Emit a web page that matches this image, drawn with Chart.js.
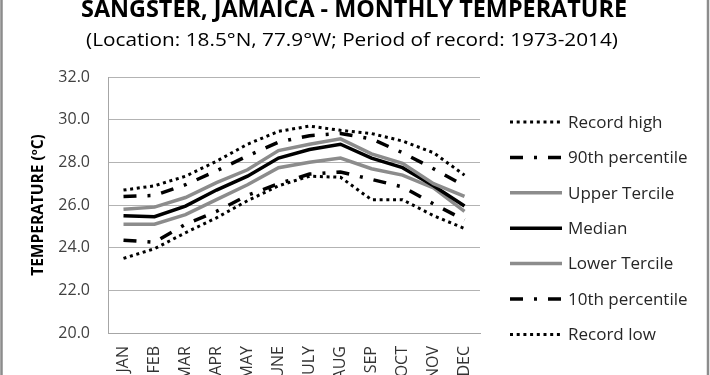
<!DOCTYPE html>
<html><head><meta charset="utf-8">
<script src="https://cdn.jsdelivr.net/npm/chart.js@4.4.0/dist/chart.umd.min.js"></script>
<style>html,body{margin:0;padding:0;background:#fff;overflow:hidden}canvas{display:block}</style>
</head><body>
<canvas id="c" width="710" height="375"></canvas>
<script>
// ---- data ----
const months = ['JAN','FEB','MAR','APR','MAY','JUNE','JULY','AUG','SEP','OCT','NOV','DEC'];
const recordHigh   = [26.7, 26.9, 27.35, 28.05, 28.85, 29.45, 29.7, 29.5, 29.35, 29.0, 28.45, 27.4];
const pct90        = [26.4, 26.45, 26.95, 27.6, 28.3, 28.95, 29.25, 29.35, 29.1, 28.45, 27.7, 26.9];
const upperTercile = [25.8, 25.9, 26.35, 27.05, 27.65, 28.55, 28.85, 29.1, 28.4, 27.95, 27.0, 26.4];
const median       = [25.5, 25.45, 25.95, 26.7, 27.35, 28.2, 28.6, 28.85, 28.2, 27.75, 26.9, 25.95];
const lowerTercile = [25.1, 25.1, 25.55, 26.25, 26.95, 27.75, 28.0, 28.2, 27.7, 27.4, 26.8, 25.7];
const pct10        = [24.35, 24.25, 25.1, 25.7, 26.45, 27.0, 27.45, 27.55, 27.2, 26.85, 26.05, 25.3];
const recordLow    = [23.5, 23.95, 24.7, 25.4, 26.2, 26.9, 27.35, 27.3, 26.25, 26.25, 25.5, 24.9];
const seriesNames  = ['Record high','90th percentile','Upper Tercile','Median','Lower Tercile','10th percentile','Record low'];
const yMin = 20, yMax = 32, yStep = 2;
const titleText = 'SANGSTER, JAMAICA - MONTHLY TEMPERATURE';
const subtitleText = '(Location: 18.5°N, 77.9°W; Period of record: 1973-2014)';

// ---- styles ----
const FONT = '"Open Sans", "Noto Sans", sans-serif';
const dotted = [3, 3.7];
const dashDot = [13, 11, 3, 11];
const styles = [
  {color:'#000000', width:3,   dash:dotted},
  {color:'#000000', width:3.5, dash:dashDot},
  {color:'#8c8c8c', width:3.5, dash:[]},
  {color:'#000000', width:3.5, dash:[]},
  {color:'#8c8c8c', width:3.5, dash:[]},
  {color:'#000000', width:3.5, dash:dashDot},
  {color:'#000000', width:3,   dash:dotted}
];
const seriesData = [recordHigh, pct90, upperTercile, median, lowerTercile, pct10, recordLow];

const datasets = seriesData.map((d,i)=>({
  label: seriesNames[i],
  data: d,
  borderColor: styles[i].color,
  backgroundColor: styles[i].color,
  borderWidth: styles[i].width,
  borderDash: styles[i].dash,
  pointRadius: 0,
  pointHoverRadius: 0,
  tension: 0,
  fill: false
}));

// draw text at a given font size, horizontally condensed to a target width
function drawFitted(ctx, text, weight, size, cx, cy, targetW){
  ctx.font = `${weight} ${size}px ${FONT}`;
  const w = ctx.measureText(text).width;
  const sx = targetW / w;
  ctx.save();
  ctx.translate(cx, cy);
  ctx.scale(sx, 1);
  ctx.textAlign = 'center';
  ctx.textBaseline = 'alphabetic';
  ctx.fillText(text, 0, 0);
  ctx.restore();
}

const decor = {
  id: 'decor',
  afterDraw(chart){
    const ctx = chart.ctx;
    ctx.save();
    // frame sides
    ctx.strokeStyle = '#8c8c8c';
    ctx.lineWidth = 2.5;
    ctx.beginPath();
    ctx.moveTo(1.5, 0); ctx.lineTo(1.5, 375);
    ctx.moveTo(708, 0); ctx.lineTo(708, 375);
    ctx.stroke();
    // title & subtitle
    ctx.fillStyle = '#000';
    drawFitted(ctx, titleText, 'bold', 22.5, 354, 17, 546);
    drawFitted(ctx, subtitleText, 'normal', 18, 352, 46, 532);
    // y title
    ctx.save();
    ctx.translate(39, 205);
    ctx.rotate(-Math.PI/2);
    ctx.textBaseline = 'middle';
    const p1 = 'TEMPERATURE (', p2 = 'o', p3 = 'C)';
    const fs = 15.5;
    ctx.font = `bold ${fs}px ${FONT}`;
    const w1 = ctx.measureText(p1).width, w3 = ctx.measureText(p3).width;
    ctx.font = `bold ${fs*0.62}px ${FONT}`;
    const w2 = ctx.measureText(p2).width;
    const total = w1 + w2 + w3;
    let x = -total/2;
    ctx.textAlign = 'left';
    ctx.font = `bold ${fs}px ${FONT}`;
    ctx.fillText(p1, x, 0); x += w1;
    ctx.font = `bold ${fs*0.62}px ${FONT}`;
    ctx.fillText(p2, x, -4.5); x += w2;
    ctx.font = `bold ${fs}px ${FONT}`;
    ctx.fillText(p3, x, 0);
    ctx.restore();
    // legend
    chart.data.datasets.forEach((ds, i) => {
      const y = 122 + i * 35.4;
      ctx.save();
      ctx.strokeStyle = ds.borderColor;
      ctx.lineWidth = ds.borderWidth;
      ctx.setLineDash(ds.borderDash || []);
      ctx.beginPath();
      ctx.moveTo(510, y); ctx.lineTo(562, y);
      ctx.stroke();
      ctx.restore();
      ctx.fillStyle = '#262626';
      ctx.font = `normal 17px ${FONT}`;
      ctx.textAlign = 'left';
      ctx.textBaseline = 'middle';
      ctx.fillText(ds.label, 568, y + 1);
    });
    ctx.restore();
  }
};

new Chart(document.getElementById('c'), {
  type: 'line',
  data: { labels: months, datasets },
  options: {
    responsive: false,
    devicePixelRatio: 1,
    animation: false,
    events: [],
    layout: { padding: { top: 77, left: 0, right: 230, bottom: 0 } },
    plugins: { legend: { display: false }, title: { display: false }, tooltip: { enabled: false } },
    scales: {
      x: {
        type: 'category',
        offset: true,
        grid: { display: false, drawTicks: false },
        border: { display: true, color: '#a6a6a6', width: 1 },
        ticks: { minRotation: 90, maxRotation: 90, padding: 13, color: '#333333', font: { family: FONT, size: 16 }, autoSkip: false },
        afterFit(scale){ scale.height = 42; }
      },
      y: {
        min: yMin, max: yMax,
        grid: { color: '#b3b3b3', lineWidth: 1, drawTicks: false },
        border: { display: true, color: '#a6a6a6', width: 1 },
        ticks: { stepSize: yStep, padding: 18, color: '#404040', font: { family: FONT, size: 16 }, callback: v => Number(v).toFixed(1) },
        afterFit(scale){ scale.width = 108; }
      }
    }
  },
  plugins: [decor]
});
</script>
</body></html>
